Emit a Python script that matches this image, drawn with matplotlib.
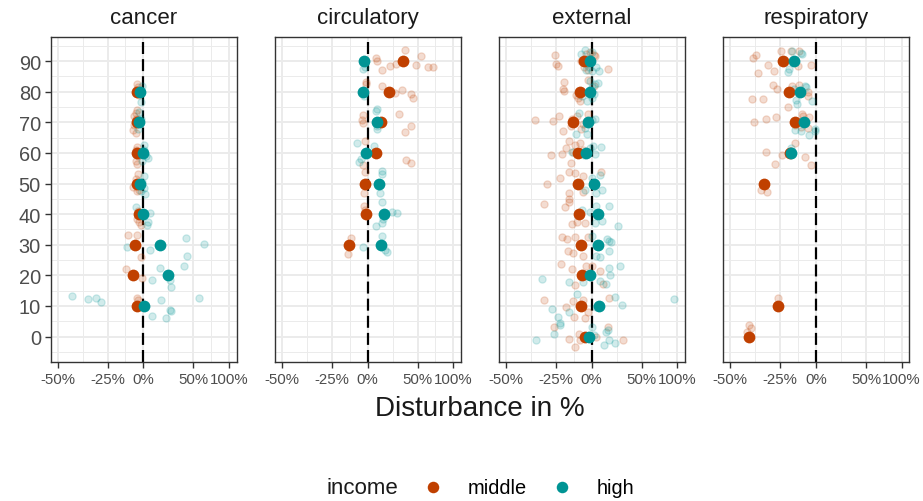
import numpy as np
import matplotlib
matplotlib.use('Agg')
import matplotlib.pyplot as plt
from matplotlib.lines import Line2D
from matplotlib.ticker import FixedLocator, FixedFormatter

plt.rcParams['font.family'] = ['Liberation Sans', 'DejaVu Sans']

nan = np.nan
panels = ['cancer', 'circulatory', 'external', 'respiratory']
ages = [0, 10, 20, 30, 40, 50, 60, 70, 80, 90]
income_levels = ['middle', 'high']
colors = {'middle': '#C04000', 'high': '#009494'}

x_ticks = [-50, -25, 0, 50, 100]
x_tick_labels = ['-50%', '-25%', '0%', '50%', '100%']
y_ticks = [0, 10, 20, 30, 40, 50, 60, 70, 80, 90]
y_tick_labels = [str(v) for v in y_ticks]

# mean disturbance (%) per age group
cancer_mid_mean = [nan, -5, -7.8, -6.5, -3, -5, -5, -5, -5, nan]
cancer_high_mean = [nan, 0.5, 22.4, 14.5, 0, -2.7, -0.5, -3, -2.7, nan]
circ_mid_mean = [nan, nan, nan, -13.8, -1.3, -2.4, 7.3, 11.4, 18.8, 32.7]
circ_high_mean = [nan, nan, nan, 11.7, 13.8, 9.6, -1.6, 8.1, -3.5, -2.7]
ext_mid_mean = [-5.5, -8, -7.5, -8.3, -10, -10.7, -10.5, -13.8, -8.8, -6]
ext_high_mean = [-1.9, 5.8, -1.6, 5.2, 5, 1.9, -4.5, -3.2, -1, -1.6]
resp_mid_mean = [-42, -26.3, nan, nan, nan, -34.3, -19, -15.4, -19.8, -23.4]
resp_high_mean = [nan, nan, nan, nan, nan, nan, -18.1, -8.8, -11.7, -16.3]

# individual (jittered) observations: (disturbance %, age)
cancer_mid_pts = [
    (-5, 82.5), (-4, 81.5), (-6, 80.5), (-3, 79),
    (-5, 74), (-6, 73), (-7, 72), (-6, 71), (-7, 69), (-8, 67.5), (-6, 66.5),
    (-5, 62), (-6, 61), (-4, 59), (-6, 57.5), (-5, 56.5),
    (-4, 53), (-6, 51.5), (-8, 49), (-5, 47.5), (-3, 48),
    (-5, 38.5), (-3, 37.5), (-4, 41), (-2, 36.5),
    (-11.9, 33.3), (-5, 33.3), (-1.8, 25.9),
    (-13, 22.1), (-1, 19.2),
    (-5, 12.6), (-4.5, 11.9),
]
cancer_high_pts = [
    (-1, 82), (-2, 79.5), (-1.8, 76.7),
    (-3, 73.5), (-2, 71), (-4, 68),
    (0.5, 62.5), (2, 59), (4, 58.5), (-1, 57.5), (1, 61),
    (1, 52.5), (-1, 50.5), (0.5, 48.5), (1.5, 46.5), (-2, 47.5),
    (-5.7, 42.3), (5.6, 40.5), (4, 37.6), (3, 36.5),
    (-12, 29.4), (5.6, 28.4), (41, 32.2), (64, 30.1), (43, 26.5),
    (39, 23.2), (14.5, 22.3), (24, 18.5), (24.7, 16.3), (7, 18.5),
    (-44, 13.4), (-36, 12.3), (-32, 12.5), (-29, 11.4), (15.7, 12.1),
    (57, 12.5), (24, 8.7), (25, 8.4), (7.5, 6.7), (20, 6.1),
]
circ_mid_pts = [
    (35, 93.5), (53.5, 91.8), (7.5, 91), (8, 89.9), (12, 87.2), (19.8, 88.4),
    (25.8, 89), (48.6, 88.7), (63, 88), (70, 88.2),
    (-1.3, 83.3), (-1, 82.6), (12.6, 82), (32.4, 80.7), (41.6, 79.3),
    (44.7, 77.9), (24.7, 79.6),
    (-3.5, 72.4), (-4, 70.7), (-3.5, 69.9), (29, 72.6), (41.6, 68.7), (35, 66.9),
    (-3.5, 56.1), (37, 57.7), (41.6, 56.6), (-2, 64),
    (-2.2, 53.9), (-2.7, 46.8),
    (-2.7, 42.6), (-2, 41.5),
    (-12.6, 32.3), (-14.7, 26.9),
]
circ_high_pts = [
    (-3.5, 87.3), (-2, 88),
    (-3, 78.5),
    (7.8, 74.5), (7.5, 73.8), (8, 67.7), (8.2, 68.8),
    (-8.5, 63.1), (5.5, 62.3), (-7, 57.1), (-5.3, 58),
    (12, 54), (12, 53), (10.5, 46.8), (9, 49.3),
    (12.6, 44), (22, 40.8), (26.5, 40.3), (7, 36.3), (12, 37.1), (13, 38.5),
    (12, 32.9), (-3.5, 29.4), (15, 28.4), (16.6, 27.8),
]
ext_mid_pts = [
    (-25.5, 92), (-25, 89), (-24, 88.3), (-4, 92.5), (-1, 93), (2, 92),
    (3, 91.8), (-6, 88), (14, 87.5), (-8, 90), (-3, 87),
    (-19.8, 83.3), (-19.8, 80.4), (-20.5, 80.9), (-10.5, 77.9), (-8.8, 77.1),
    (-11.5, 79), (-3, 84), (2, 82),
    (-36.6, 70.9), (-26.5, 70.3), (-23, 72), (-20.3, 67.1), (-14.7, 71),
    (-11, 72), (-6.5, 69.5), (-2.5, 72.6), (-8, 67.8), (-15.5, 68.8),
    (-28, 59.3), (-21, 59.8), (-18.7, 61.7), (-16.5, 63.9), (-15, 56.6),
    (-12.3, 62.5), (-8.8, 63.3), (-6.3, 60.9), (-14, 60.2),
    (-30, 49.8), (-22.8, 51.7), (-16.5, 53.7), (-16.5, 46.8), (-12.3, 53.4),
    (-6.3, 52.6), (-6.3, 47.4), (2, 49.6), (8, 53.7),
    (-32, 43.4), (-19.2, 42.5), (-17, 43.9), (-14.7, 36.8), (-11, 37.4),
    (-5, 37), (-16.5, 45),
    (-21.3, 32.7), (-18, 31.9), (-17.5, 27.9), (-14, 27.4), (-12.3, 32.4),
    (-6.3, 26.4), (-2.5, 32.4),
    (-21.7, 23.8), (-14.7, 22.1), (-12.3, 16.9), (-6.5, 20.1), (0, 23.2),
    (7, 21.3), (10, 17.2), (-4, 23.2),
    (-32, 11.8), (-18.7, 9.8), (-14, 11.5), (-6.3, 12), (-2.5, 8),
    (14.8, 12.6), (-5, 6.2), (-13, 6.4),
    (-26, 3.1), (-17, -0.7), (-12.4, -3.4), (-8.8, -1.2), (3.7, 0),
    (14, 3.1), (29, -1.2), (-10, 1),
]
ext_high_pts = [
    (-8, 92.5), (-5, 93.5), (0, 93), (-3, 91), (-2, 88), (-4, 87),
    (0, 86.8), (4, 88), (5.8, 86.8),
    (-1, 83.4), (3, 82.7), (5, 83), (2, 79.2), (0, 77.9), (-7.5, 78.7),
    (-3.7, 77), (0.5, 81.5),
    (-9.5, 73.1), (3, 71.1), (-11.5, 66.2), (-3.7, 66.2), (-5, 68.3), (0, 70.7),
    (-14.3, 60.2), (1, 62.4), (8, 62), (3, 59.6), (-1, 61.5), (-6, 59.3),
    (-5, 47.9), (7.5, 52.8), (8.7, 47.9), (4, 46.8), (0, 51.7),
    (-7.5, 41.4), (4, 42.8), (14.8, 42.8), (23.7, 36.3), (9, 37.7), (3, 37),
    (-1, 40.6),
    (0, 33), (13, 31.9), (15, 31.4), (17, 30.8), (14.8, 27.9), (3.7, 26.4),
    (7, 25.9),
    (-33, 18.9), (-16.5, 17.8), (15, 22.5), (26, 23), (16.5, 20.1),
    (12.5, 17.2), (-6.3, 17.8), (7, 18.2),
    (-27.5, 9.1), (-16.5, 8), (20.5, 12.9), (27.8, 10.2), (95, 12.3),
    (-23.5, 6.4), (-22.5, 4.3), (3.7, 9.6), (-11, 13.9),
    (-36, -1.2), (-26, 1), (-22.5, 3.7), (12.5, 1.5), (14, 2.3), (15, -1.2),
    (11, -2.8), (21, -2), (0, 3.1), (2, 0.4),
]
resp_mid_pts = [
    (-40, 91), (-38.5, 92), (-24.5, 93.4), (-32, 88.8), (-37.5, 86.1),
    (-28.8, 86.8), (-18.5, 93.2), (-13.6, 88.3), (-3.9, 88.8), (-12.5, 93.4),
    (-29.4, 82.1), (-26.8, 81), (-40.4, 77.8), (-34.9, 77.8), (-20.2, 75),
    (-17.8, 81.9), (-13, 82.3), (-5.8, 79.9), (-6.3, 78.6),
    (-39.6, 70.1), (-33, 71), (-27.5, 71.7), (-10.5, 72.8), (-10, 72.1),
    (-5, 71.7), (-6.3, 68.1), (-15.8, 69), (-11.5, 68.5),
    (-33.4, 60.4), (-24, 59.5), (-28, 56.5), (-15.2, 63.3), (-8.3, 58.7),
    (-4, 56.2),
    (-35.7, 47.8), (-32.5, 47.4),
    (-26.5, 12.6),
    (-42, 3.8), (-41, 2.7), (-42.5, 1.5),
]
resp_high_pts = [
    (-20.2, 86.5), (-17.8, 93.4), (-11.3, 92.6), (-10.5, 92.3), (-19.5, 87.5),
    (-16.3, 81), (-8.4, 81.9), (-7.5, 81.5), (-14.2, 76), (-3.2, 77.1),
    (-15, 77.3),
    (-15.4, 67.6), (-11.2, 67.3), (-5, 65.9), (-1, 67.3), (-0.5, 67.9),
    (-18, 61.5), (-18.5, 60.5),
]

panel_means = {
    'cancer': (cancer_mid_mean, cancer_high_mean),
    'circulatory': (circ_mid_mean, circ_high_mean),
    'external': (ext_mid_mean, ext_high_mean),
    'respiratory': (resp_mid_mean, resp_high_mean),
}
panel_pts = {
    'cancer': (cancer_mid_pts, cancer_high_pts),
    'circulatory': (circ_mid_pts, circ_high_pts),
    'external': (ext_mid_pts, ext_high_pts),
    'respiratory': (resp_mid_pts, resp_high_pts),
}


def fwd(x):
    x = np.asarray(x, dtype=float)
    return np.log(np.maximum(1 + x / 100.0, 1e-9))


def inv(t):
    t = np.asarray(t, dtype=float)
    return 100.0 * (np.exp(t) - 1)


W, H = 923, 502
fig = plt.figure(figsize=(W / 100, H / 100), dpi=100)
lefts = [50.7, 275, 499, 723.3]
pw = 186
top, bottom = 38, 363

grid_c = '#EBEBEB'
tmaj = fwd(x_ticks)
x_minor = list(inv((tmaj[:-1] + tmaj[1:]) / 2))
y_minor = [v + 5 for v in range(-10, 100, 10)]

for i, name in enumerate(panels):
    ax = fig.add_axes([lefts[i] / W, 1 - bottom / H, pw / W, (bottom - top) / H])
    ax.set_xscale('function', functions=(fwd, inv))
    ax.set_xlim(-52.7, 113)
    ax.set_ylim(-8.3, 97.9)
    ax.set_axisbelow(True)

    ax.xaxis.set_major_locator(FixedLocator(x_ticks))
    ax.xaxis.set_major_formatter(FixedFormatter(x_tick_labels))
    ax.xaxis.set_minor_locator(FixedLocator(x_minor))
    ax.yaxis.set_major_locator(FixedLocator(y_ticks))
    ax.yaxis.set_major_formatter(FixedFormatter(y_tick_labels))
    ax.yaxis.set_minor_locator(FixedLocator(y_minor))

    ax.grid(which='major', color=grid_c, lw=1.4)
    ax.grid(which='minor', color=grid_c, lw=0.7)
    ax.tick_params(which='minor', length=0)
    ax.tick_params(axis='x', which='major', length=4, width=1, color='#333333',
                   labelcolor='#4D4D4D', labelsize=10.8, pad=3)
    ax.tick_params(axis='y', which='major', length=4, width=1, color='#333333',
                   labelcolor='#4D4D4D', labelsize=14.4, pad=3)
    if i > 0:
        ax.tick_params(axis='y', which='major', length=0, labelleft=False)
    for sp in ax.spines.values():
        sp.set_color('#333333')
        sp.set_linewidth(1)

    ax.axvline(0, color='black', lw=1.6, ls=(0, (5.4, 2.3)), zorder=2)

    mid_pts, high_pts = panel_pts[name]
    for lvl, pts in zip(income_levels, (mid_pts, high_pts)):
        arr = np.array(pts)
        ax.scatter(arr[:, 0], arr[:, 1], s=27, color=colors[lvl], alpha=0.18,
                   linewidths=0.9, zorder=3)
    mid_mean, high_mean = panel_means[name]
    for lvl, vals in zip(income_levels, (mid_mean, high_mean)):
        ax.scatter(vals, ages, s=72, color=colors[lvl], linewidths=0, zorder=4)

    ax.set_title(name, fontsize=16, color='#1A1A1A', pad=10)

fig.text(480 / W, 1 - 409 / H, 'Disturbance in %', fontsize=20, color='#1A1A1A',
         ha='center', va='center')

fig.text(326 / W, 1 - 489 / H, 'income', fontsize=16, color='#1A1A1A',
         ha='left', va='center')
handles = [Line2D([], [], marker='o', ls='none', ms=8.3, color=colors[l], mew=0)
           for l in income_levels]
fig.legend(handles, income_levels, loc='center left',
           bbox_to_anchor=(423 / W, 1 - 489 / H), ncol=2, frameon=False,
           fontsize=14.4, handlelength=1.0, handletextpad=1.25,
           columnspacing=1.25, borderpad=0, borderaxespad=0)

fig.savefig('out.png', dpi=100)
